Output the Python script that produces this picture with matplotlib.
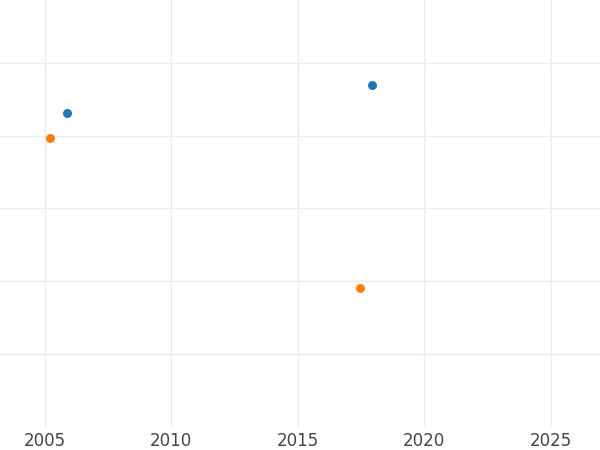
"""Two-series scatter of values by year, minimal grid style."""

import matplotlib.pyplot as plt

# series values
blue_year = [2005.90, 2017.94]
blue_value = [4.31, 4.70]
orange_year = [2005.23, 2017.47]
orange_value = [3.97, 1.91]

x_ticks = [2005, 2010, 2015, 2020, 2025]
y_ticks = [1, 2, 3, 4, 5]


def main():
    fig = plt.figure(figsize=(6, 4.5), dpi=100)
    ax = fig.add_axes([0, 0.052, 1, 0.948])
    ax.scatter(blue_year, blue_value, s=42, color="#1f77b4", zorder=3, linewidths=0)
    ax.scatter(orange_year, orange_value, s=42, color="#ff7f0e", zorder=3, linewidths=0)

    ax.set_xlim(2003.24, 2026.94)
    ax.set_ylim(0, 5.866)
    ax.set_xticks(x_ticks)
    ax.set_yticks(y_ticks)
    ax.set_yticklabels([])
    ax.tick_params(axis="both", length=0, labelsize=12, colors="#444444", pad=4)
    ax.grid(True, color="#ebebeb", linewidth=1.0)
    ax.set_axisbelow(True)
    for spine in ax.spines.values():
        spine.set_visible(False)

    fig.savefig("out.png", dpi=100)


if __name__ == "__main__":
    main()
